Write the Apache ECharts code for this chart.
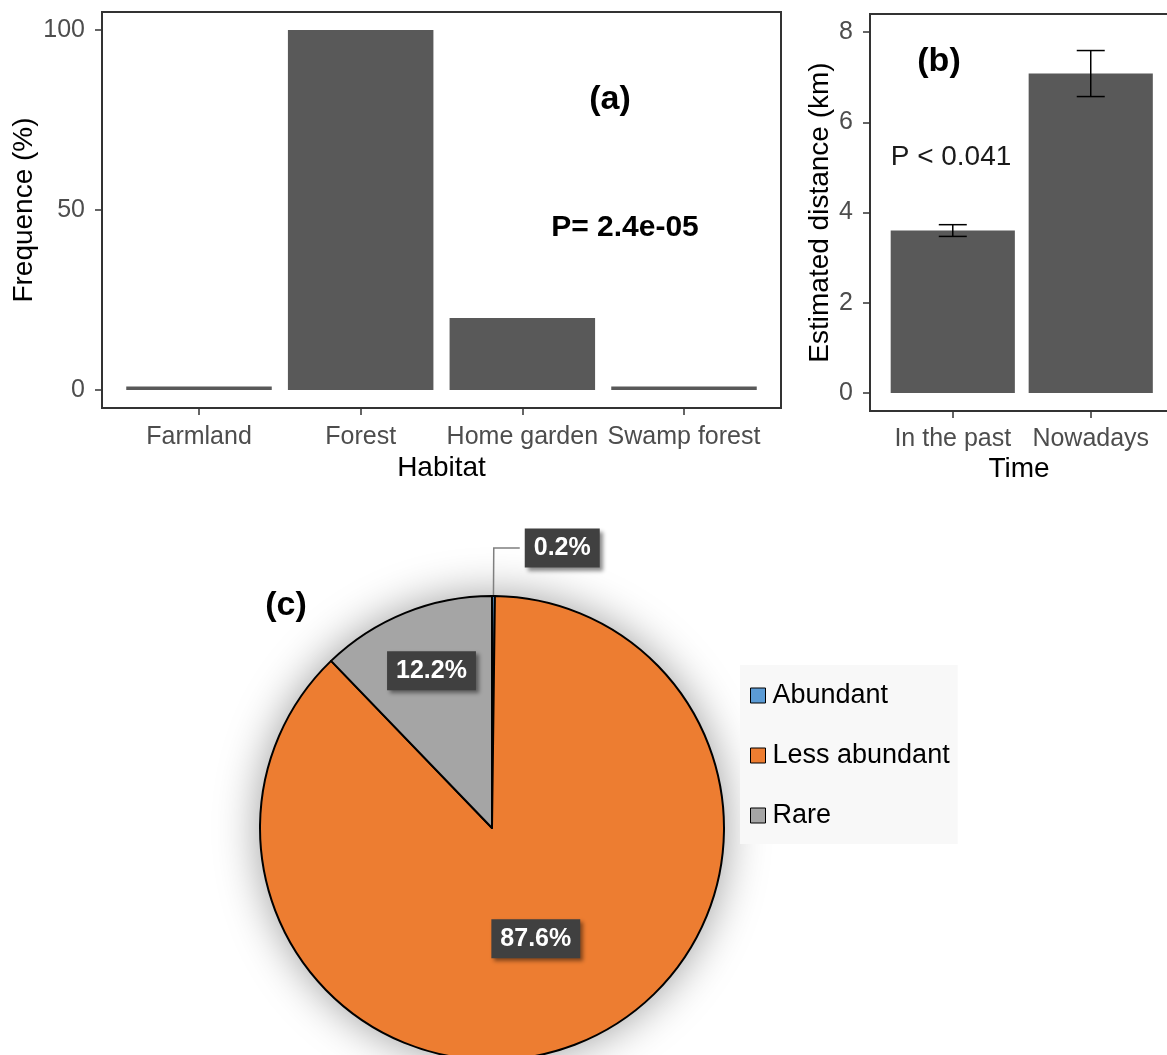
<!DOCTYPE html>
<html>
<head>
<meta charset="utf-8">
<script src="https://cdn.jsdelivr.net/npm/echarts@6/dist/echarts.min.js"></script>
<style>
html,body{margin:0;padding:0;background:#fff;}
#main{width:1167px;height:1055px;}
</style>
</head>
<body>
<div id="main"></div>
<script>
// ---- Data ----
const habitats = ['Farmland', 'Forest', 'Home garden', 'Swamp forest'];
const habitatFreq = [1, 100, 20, 1];
const freqTicks = [0, 50, 100];

const periods = ['In the past', 'Nowadays'];
const distMean = [3.6, 7.08];
const distSE = [0.13, 0.51];
const distTicks = [0, 2, 4, 6, 8];

const abundanceNames = ['Abundant', 'Less abundant', 'Rare'];
const abundanceShare = [0.2, 87.6, 12.2];
const abundanceColors = ['#5B9BD5', '#ED7D31', '#A5A5A5'];

// ---- Chart ----
const FONT = '"Liberation Sans", Arial, sans-serif';
const chart = echarts.init(document.getElementById('main'), null, {renderer: 'canvas'});

const tickStyle = {show: true, length: 7, inside: false, lineStyle: {color: '#333', width: 1.5}};
const labelStyle = {color: '#4d4d4d', fontSize: 25, fontFamily: FONT};
const nameStyle = {color: '#000', fontSize: 28, fontFamily: FONT};
const hiddenLine = {show: false, onZero: false};

const option = {
  animation: false,
  backgroundColor: '#fff',
  textStyle: {fontFamily: FONT},
  grid: [
    {left: 102, top: 12, width: 679, height: 396, show: true, borderColor: '#333', borderWidth: 2, backgroundColor: 'transparent', containLabel: false, outerBoundsMode: 'none'},
    {left: 870, top: 14, width: 298, height: 397, show: true, borderColor: '#333', borderWidth: 2, backgroundColor: 'transparent', containLabel: false, outerBoundsMode: 'none'}
  ],
  xAxis: [
    {
      gridIndex: 0, type: 'value', min: -0.6, max: 3.6, position: 'bottom',
      axisLine: hiddenLine, splitLine: {show: false},
      axisTick: Object.assign({customValues: habitats.map((_, i) => i)}, tickStyle),
      axisLabel: Object.assign({customValues: habitats.map((_, i) => i), margin: 17, formatter: v => habitats[v]}, labelStyle),
      name: 'Habitat', nameLocation: 'middle', nameGap: 46, nameTextStyle: nameStyle
    },
    {
      gridIndex: 1, type: 'value', min: -0.6, max: 1.56, position: 'bottom',
      axisLine: hiddenLine, splitLine: {show: false},
      axisTick: Object.assign({customValues: periods.map((_, i) => i)}, tickStyle),
      axisLabel: Object.assign({customValues: periods.map((_, i) => i), margin: 16, formatter: v => periods[v]}, labelStyle),
      name: 'Time', nameLocation: 'middle', nameGap: 44, nameTextStyle: nameStyle
    }
  ],
  yAxis: [
    {
      gridIndex: 0, type: 'value', min: -5, max: 105, position: 'left',
      axisLine: hiddenLine, splitLine: {show: false},
      axisTick: Object.assign({customValues: freqTicks}, tickStyle),
      axisLabel: Object.assign({customValues: freqTicks, margin: 17}, labelStyle),
      name: 'Frequence (%)', nameLocation: 'middle', nameGap: 64, nameMoveOverlap: false, nameTextStyle: nameStyle
    },
    {
      gridIndex: 1, type: 'value', min: -0.4, max: 8.4, position: 'left',
      axisLine: hiddenLine, splitLine: {show: false},
      axisTick: Object.assign({customValues: distTicks}, tickStyle),
      axisLabel: Object.assign({customValues: distTicks, margin: 17}, labelStyle),
      name: 'Estimated distance (km)', nameLocation: 'middle', nameGap: 36, nameTextStyle: nameStyle
    }
  ],
  legend: {
    orient: 'vertical',
    left: 740, top: 665,
    data: abundanceNames,
    backgroundColor: '#f8f8f8',
    padding: [17, 8, 15, 10],
    itemGap: 33,
    itemWidth: 15, itemHeight: 15,
    icon: 'rect',
    itemStyle: {borderColor: '#000', borderWidth: 1},
    textStyle: {fontSize: 27, color: '#000', fontFamily: FONT, padding: [0, 0, 0, 2]},
    selectedMode: false
  },
  graphic: [
    {type: 'text', x: 610, y: 100, style: {text: '(a)', font: 'bold 34px ' + FONT, fill: '#000', align: 'center', verticalAlign: 'middle'}},
    {type: 'text', x: 625, y: 228, style: {text: 'P= 2.4e-05', font: 'bold 30px ' + FONT, fill: '#000', align: 'center', verticalAlign: 'middle'}},
    {type: 'text', x: 939, y: 62, style: {text: '(b)', font: 'bold 34px ' + FONT, fill: '#000', align: 'center', verticalAlign: 'middle'}},
    {type: 'text', x: 951, y: 157, style: {text: 'P < 0.041', font: '28px ' + FONT, fill: '#1a1a1a', align: 'center', verticalAlign: 'middle'}},
    {type: 'text', x: 286, y: 606, style: {text: '(c)', font: 'bold 34px ' + FONT, fill: '#000', align: 'center', verticalAlign: 'middle'}}
  ],
  series: [
    {
      type: 'bar', xAxisIndex: 0, yAxisIndex: 0,
      data: habitats.map((_, i) => [i, habitatFreq[i]]),
      barWidth: '90%',
      itemStyle: {color: '#595959'}
    },
    {
      type: 'bar', xAxisIndex: 1, yAxisIndex: 1,
      data: periods.map((_, i) => [i, distMean[i]]),
      barWidth: '90%',
      itemStyle: {color: '#595959'}
    },
    {
      type: 'custom', xAxisIndex: 1, yAxisIndex: 1, z: 5,
      data: periods.map((_, i) => [i, distMean[i] - distSE[i], distMean[i] + distSE[i]]),
      encode: {x: 0, y: [1, 2]},
      renderItem: function (params, api) {
        const x = api.value(0);
        const lo = api.coord([x, api.value(1)]);
        const hi = api.coord([x, api.value(2)]);
        const hw = 14;
        const st = {stroke: '#000', lineWidth: 1.5};
        return {type: 'group', children: [
          {type: 'line', shape: {x1: lo[0], y1: lo[1], x2: hi[0], y2: hi[1]}, style: st},
          {type: 'line', shape: {x1: lo[0] - hw, y1: lo[1], x2: lo[0] + hw, y2: lo[1]}, style: st},
          {type: 'line', shape: {x1: hi[0] - hw, y1: hi[1], x2: hi[0] + hw, y2: hi[1]}, style: st}
        ]};
      }
    },
    {
      // soft shadow behind the pie
      type: 'pie', center: [492, 828], radius: 232, z: 1, silent: true,
      label: {show: false}, labelLine: {show: false},
      data: [{value: 1, name: '__shadow'}],
      itemStyle: {color: '#fff', shadowBlur: 45, shadowColor: 'rgba(0,0,0,0.4)'}
    },
    {
      type: 'pie', center: [492, 828], radius: 232, z: 2,
      startAngle: 90, clockwise: true, minAngle: 0,
      avoidLabelOverlap: false,
      data: abundanceNames.map((n, i) => ({
        name: n, value: abundanceShare[i],
        itemStyle: {color: abundanceColors[i]},
        label: i === 0 ? {position: 'outside'} : {position: 'inside'},
        labelLine: i === 0 ? {show: true, length: 48, length2: 26, lineStyle: {color: '#7f7f7f', width: 1.5}} : {show: false}
      })),
      itemStyle: {borderColor: '#000', borderWidth: 2},
      label: {
        show: true,
        formatter: p => p.value.toFixed(1) + '%',
        color: '#fff', fontWeight: 'bold', fontSize: 25, fontFamily: FONT,
        backgroundColor: '#404040', padding: [7, 9],
        shadowBlur: 4, shadowOffsetX: 3, shadowOffsetY: 3, shadowColor: 'rgba(0,0,0,0.45)'
      },
      labelLayout: function (params) {
        if (params.dataIndex === 2) { return {dx: -16, dy: -47}; }
        return {};
      },
      emphasis: {disabled: true}
    }
  ]
};
chart.setOption(option);
</script>
</body>
</html>
